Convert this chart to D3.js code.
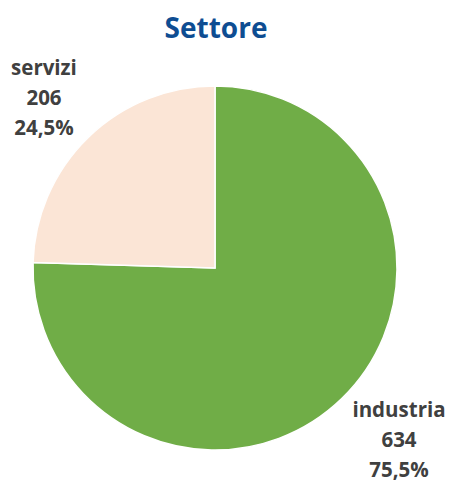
<!DOCTYPE html>
<html><head><meta charset="utf-8">
<script src="https://cdn.jsdelivr.net/npm/d3@7"></script>
<style>body{margin:0;background:#fff}svg{display:block}</style>
</head><body>
<script>
const categories = ["industria", "servizi"];
const values = [634, 206];
const percentLabels = ["75,5%", "24,5%"];
const title = "Settore";
const colors = ["#70AD47", "#FBE5D6"];

const W = 451, H = 483;
const svg = d3.select("body").append("svg").attr("width", W).attr("height", H);
const cx = 215, cy = 268, R = 182;

svg.append("text").attr("x", 216).attr("y", 38).attr("text-anchor", "middle")
  .attr("font-family", "Open Sans").attr("font-weight", "bold").attr("font-size", 28)
  .attr("fill", "#0E4D92").text(title);

const data = categories.map((c, i) => ({cat: c, value: values[i], pct: percentLabels[i], color: colors[i]}));
const pie = d3.pie().value(d => d.value).sort(null);
const arc = d3.arc().innerRadius(0).outerRadius(R);
const g = svg.append("g").attr("transform", `translate(${cx},${cy})`);
g.selectAll("path").data(pie(data)).join("path")
  .attr("d", arc).attr("fill", d => d.data.color)
  .attr("stroke", "#fff").attr("stroke-width", 1.5);

const labelPos = [[399, 417], [44, 75]];
data.forEach((d, i) => {
  const t = svg.append("text").attr("text-anchor", "middle")
    .attr("font-family", "Open Sans").attr("font-weight", "bold").attr("font-size", 20.5)
    .attr("fill", "#404040");
  [d.cat, String(d.value), d.pct].forEach((s, j) => {
    t.append("tspan").attr("x", labelPos[i][0]).attr("y", labelPos[i][1] + j * 30).text(s);
  });
});
</script>
</body></html>
